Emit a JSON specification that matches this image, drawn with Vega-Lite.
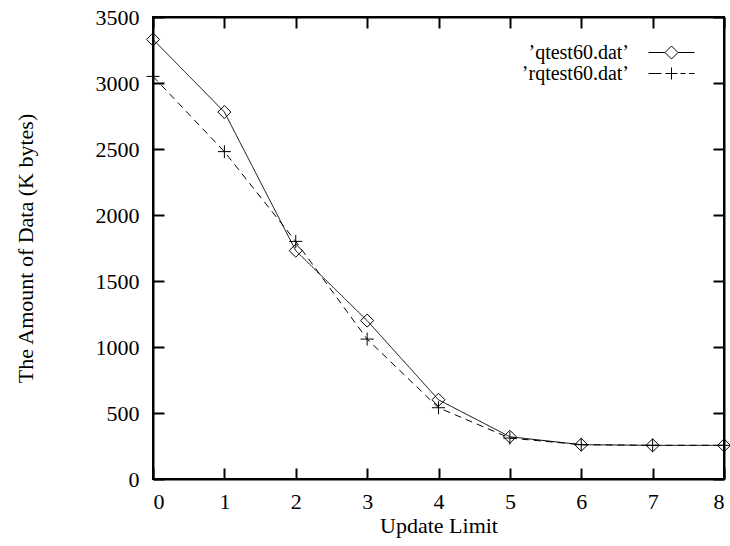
{
  "$schema": "https://vega.github.io/schema/vega-lite/v6.json",
  "width": 571,
  "height": 462,
  "autosize": {"type": "none"},
  "padding": {"left": 153, "top": 17, "right": 6, "bottom": 67},
  "background": "white",
  "config": {
    "font": "Liberation Serif",
    "view": {"stroke": "black", "strokeWidth": 2},
    "axis": {
      "labelFont": "Liberation Serif",
      "labelFontSize": 22,
      "labelColor": "black",
      "titleFont": "Liberation Serif",
      "titleFontSize": 22,
      "titleFontWeight": "normal",
      "titleColor": "black",
      "domainColor": "black",
      "domainWidth": 2,
      "tickColor": "black",
      "tickWidth": 2,
      "tickSize": -11,
      "grid": false
    },
    "legend": {
      "labelFont": "Liberation Serif",
      "labelFontSize": 20,
      "labelColor": "black"
    }
  },
  "data": {
    "values": [
      {"x": 0, "y": 3330, "series": "’qtest60.dat’"},
      {"x": 1, "y": 2780, "series": "’qtest60.dat’"},
      {"x": 2, "y": 1730, "series": "’qtest60.dat’"},
      {"x": 3, "y": 1200, "series": "’qtest60.dat’"},
      {"x": 4, "y": 600, "series": "’qtest60.dat’"},
      {"x": 5, "y": 320, "series": "’qtest60.dat’"},
      {"x": 6, "y": 260, "series": "’qtest60.dat’"},
      {"x": 7, "y": 255, "series": "’qtest60.dat’"},
      {"x": 8, "y": 255, "series": "’qtest60.dat’"},
      {"x": 0, "y": 3050, "series": "’rqtest60.dat’"},
      {"x": 1, "y": 2480, "series": "’rqtest60.dat’"},
      {"x": 2, "y": 1800, "series": "’rqtest60.dat’"},
      {"x": 3, "y": 1060, "series": "’rqtest60.dat’"},
      {"x": 4, "y": 540, "series": "’rqtest60.dat’"},
      {"x": 5, "y": 310, "series": "’rqtest60.dat’"},
      {"x": 6, "y": 260, "series": "’rqtest60.dat’"},
      {"x": 7, "y": 255, "series": "’rqtest60.dat’"},
      {"x": 8, "y": 255, "series": "’rqtest60.dat’"}
    ]
  },
  "layer": [
    {
      "mark": {"type": "line", "color": "black", "strokeWidth": 1},
      "encoding": {
        "x": {"field": "x", "type": "quantitative", "scale": {"domain": [0, 8], "nice": false},
              "axis": {"orient": "top", "labels": false, "title": null, "values": [0,1,2,3,4,5,6,7,8]}},
        "y": {"field": "y", "type": "quantitative", "scale": {"domain": [0, 3500], "nice": false},
              "axis": {"orient": "right", "labels": false, "title": null, "values": [0,500,1000,1500,2000,2500,3000,3500]}},
        "detail": {"field": "series"},
        "strokeDash": {"field": "series", "type": "nominal", "legend": null,
                       "scale": {"domain": ["’qtest60.dat’", "’rqtest60.dat’"], "range": [[1, 0], [7, 5]]}}
      }
    },
    {
      "mark": {"type": "point", "color": "black", "filled": false, "strokeWidth": 1, "size": 170, "opacity": 1},
      "encoding": {
        "x": {"field": "x", "type": "quantitative",
              "axis": {"orient": "bottom", "title": "Update Limit", "values": [0,1,2,3,4,5,6,7,8], "labelPadding": 23, "titlePadding": 3}},
        "y": {"field": "y", "type": "quantitative",
              "axis": {"orient": "left", "title": "The Amount of Data (K bytes)", "format": "d", "values": [0,500,1000,1500,2000,2500,3000,3500], "labelPadding": 25, "titlePadding": 58}},
        "shape": {"field": "series", "type": "nominal", "legend": null,
                  "scale": {"domain": ["’qtest60.dat’", "’rqtest60.dat’"], "range": ["diamond", "M-1,0H1M0,-1V1"]}}
      }
    },
    {
      "transform": [{"filter": "false"}],
      "mark": {"type": "point", "color": "black", "filled": false, "strokeWidth": 1, "size": 400},
      "encoding": {
        "x": {"field": "x", "type": "quantitative", "axis": null},
        "y": {"field": "y", "type": "quantitative", "axis": null},
        "shape": {"field": "series", "type": "nominal",
                  "scale": {"domain": ["’qtest60.dat’", "’rqtest60.dat’"],
                            "range": ["M-2.3,0H-0.65L0,-0.65L0.65,0L0,0.65L-0.65,0M0.65,0H2.3",
                                      "M-2.3,0H-1.0M-0.6,0H0.6M0,-0.6V0.6M0.9,0H1.4M1.75,0H2.3"]},
                  "legend": {"title": null, "orient": "none", "legendX": 508, "legendY": 25,
                             "padding": 0, "rowPadding": 0, "symbolSize": 400, "symbolStrokeColor": "black",
                             "symbolStrokeWidth": 1, "symbolOpacity": 1, "symbolFillColor": "transparent",
                             "labelAlign": "right", "labelOffset": -53}}
      }
    }
  ],
  "resolve": {"axis": {"x": "independent", "y": "independent"}, "scale": {"shape": "independent"}}
}
